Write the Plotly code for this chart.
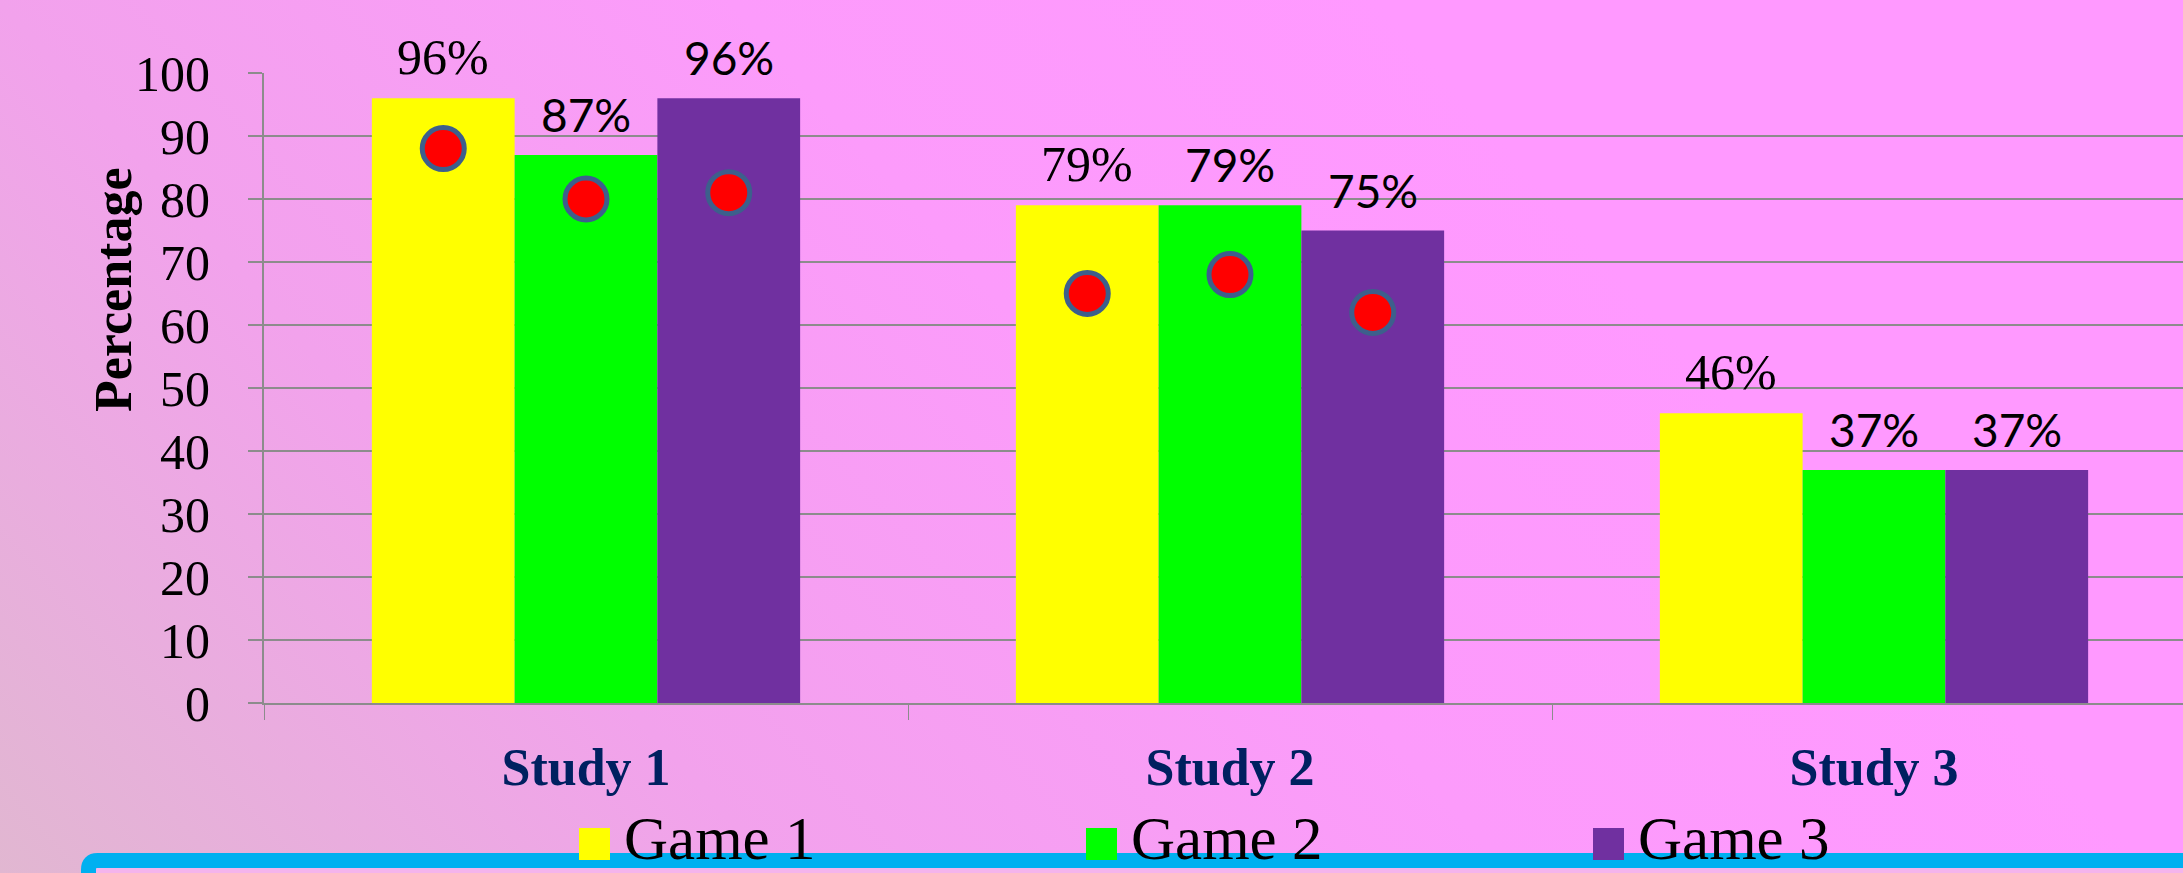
import base64
import plotly.graph_objects as go

# ---------------- data ----------------
studies = ["Study 1", "Study 2", "Study 3"]
games = ["Game 1", "Game 2", "Game 3"]
game1 = [96, 79, 46]
game2 = [87, 79, 37]
game3 = [96, 75, 37]
dots1 = [88, 65, None]
dots2 = [80, 68, None]
dots3 = [81, 62, None]
yticks = [0, 10, 20, 30, 40, 50, 60, 70, 80, 90, 100]

series = [game1, game2, game3]
dots = [dots1, dots2, dots3]
colors = ["#FFFF00", "#00FF00", "#7030A0"]
label_fonts = ["Liberation Serif", "Lato", "Lato"]
label_sizes = [50, 46, 46]

# ---------------- layout geometry ----------------
FW, FH = 2183, 873
L, T, B, R = 264, 73, 170, 0
W = FW - L - R
H = FH - T - B
BARGAP = 0.335


def px(x):
    return (x - L) / W


def py(y):
    return (FH - B - y) / H


fig = go.Figure()

for j, (g, vals, col) in enumerate(zip(games, series, colors)):
    fig.add_trace(go.Bar(
        x=studies, y=vals, name=g, marker=dict(color=col, line=dict(width=0)),
        offsetgroup=str(j), showlegend=False, hoverinfo="skip"))

for j, d in enumerate(dots):
    fig.add_trace(go.Scatter(
        x=studies, y=d, mode="markers", offsetgroup=str(j), showlegend=False,
        marker=dict(size=42, color="#FF0000", line=dict(width=5, color="#3D5F8C")),
        hoverinfo="skip"))

# data labels
w = (1 - BARGAP) / len(games)
annotations = []
for j, vals in enumerate(series):
    for i, v in enumerate(vals):
        annotations.append(dict(
            x=i + (j - 1) * w, y=v, xref="x", yref="y", text=f"{v}%",
            showarrow=False, yanchor="bottom", xanchor="center", yshift=11,
            font=dict(family=label_fonts[j], size=label_sizes[j], color="black")))

# y-axis title
annotations.append(dict(
    x=px(113), y=py(290), xref="paper", yref="paper", text="<b>Percentage</b>",
    textangle=-90, showarrow=False, xanchor="center", yanchor="middle",
    font=dict(family="Liberation Serif", size=52, color="black")))

# manual legend
shapes = []
# blue rounded box at bottom
bx0, by0, r = 88.5, 860.5, 9
path = (f"M {px(bx0)},{py(FH + 60)} L {px(bx0)},{py(by0 + r)} "
        f"Q {px(bx0)},{py(by0)} {px(bx0 + r)},{py(by0)} "
        f"L {px(FW + 60)},{py(by0)} L {px(FW + 60)},{py(FH + 60)} Z")
shapes.append(dict(type="path", xref="paper", yref="paper", path=path,
                   line=dict(color="#00B0F0", width=15), fillcolor="#F4B4EC",
                   layer="above"))
leg_x0, leg_step = 579, 507
for j, (g, col) in enumerate(zip(games, colors)):
    sx = leg_x0 + j * leg_step
    shapes.append(dict(type="rect", xref="paper", yref="paper",
                       x0=px(sx), x1=px(sx + 31), y0=py(860), y1=py(828),
                       fillcolor=col, line=dict(width=0), layer="above"))
    annotations.append(dict(
        x=px(sx + 45), y=py(872), xref="paper", yref="paper", text=g,
        showarrow=False, xanchor="left", yanchor="bottom", borderpad=0,
        borderwidth=0,
        font=dict(family="Liberation Serif", size=61, color="black")))

# gradient background as svg image
svg = f'''<svg xmlns="http://www.w3.org/2000/svg" width="{FW}" height="{FH}" viewBox="0 0 {FW} {FH}" preserveAspectRatio="none">
<defs><linearGradient id="g" gradientUnits="userSpaceOnUse" x1="0" y1="{FH}" x2="1200" y2="-200">
<stop offset="0" stop-color="#E1B7D1"/>
<stop offset="0.36" stop-color="#F2A2EC"/>
<stop offset="0.7" stop-color="#FC9BFB"/>
<stop offset="1" stop-color="#FF99FF"/>
</linearGradient></defs>
<rect x="0" y="0" width="{FW}" height="{FH}" fill="url(#g)"/></svg>'''
src = "data:image/svg+xml;base64," + base64.b64encode(svg.encode()).decode()

fig.update_layout(
    width=FW, height=FH,
    margin=dict(l=L, r=R, t=T, b=B, autoexpand=False),
    paper_bgcolor="#FF99FF", plot_bgcolor="rgba(0,0,0,0)",
    barmode="group", bargap=BARGAP, bargroupgap=0,
    scattermode="group", scattergap=BARGAP,
    showlegend=False,
    annotations=annotations, shapes=shapes,
    images=[dict(source=src, xref="paper", yref="paper", x=px(0), y=py(0),
                 sizex=FW / W, sizey=FH / H, xanchor="left", yanchor="top",
                 sizing="stretch", layer="below")],
)
fig.update_xaxes(
    type="category", categoryorder="array", categoryarray=studies,
    range=[-0.5, -0.5 + W / 644], tickson="boundaries", ticks="outside",
    ticklen=15, tickwidth=1, tickcolor="#8C8C8C", showline=True,
    linecolor="#8C8C8C", linewidth=2, showgrid=False, ticklabelstandoff=18,
    tickfont=dict(family="Liberation Serif", size=52, color="#002060", weight="bold"))
fig.update_yaxes(
    range=[0, 100], tickvals=yticks, ticks="outside", ticklen=14, tickwidth=2,
    tickcolor="#8C8C8C", showline=True, linecolor="#8C8C8C", linewidth=2,
    showgrid=True, gridcolor="#8C8C8C", gridwidth=2, zeroline=False,
    ticklabelstandoff=28,
    tickfont=dict(family="Liberation Serif", size=50, color="black"))

fig.write_html("out.html")
